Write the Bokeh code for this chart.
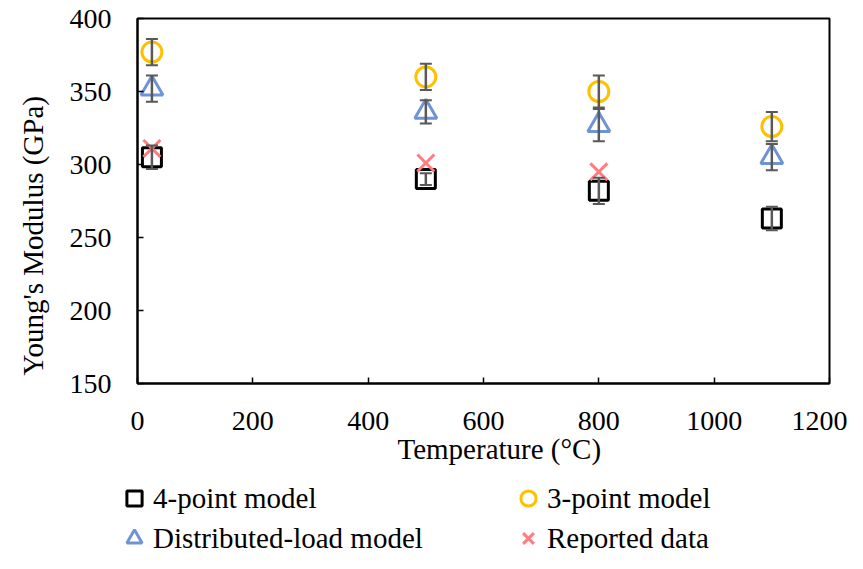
from bokeh.plotting import figure
from bokeh.layouts import column
from bokeh.models import (ColumnDataSource, Whisker, TeeHead, Legend, LegendItem,
                          Range1d, FixedTicker, Title)
from bokeh.embed import file_html
from bokeh.resources import INLINE

# ---- data ----
temperature = [25, 500, 800, 1100]
four_point = [305, 290, 282, 263]
four_point_err = [8, 4, 9, 8]
three_point = [377, 360, 350, 326]
three_point_err = [9, 9, 11, 10]
distributed = [352, 336, 327, 305]
distributed_err = [9, 8, 11, 9]
reported_temperature = [25, 500, 800]
reported = [311, 301, 295]

x_ticks = [0, 200, 400, 600, 800, 1000, 1200]
y_ticks = [150, 200, 250, 300, 350, 400]

series_labels = ["4-point model", "3-point model", "Distributed-load model", "Reported data"]
x_title = "Temperature (°C)"
y_title = "Young's Modulus (GPa)"

FONT = "Liberation Serif"
TICK_FS = "28px"
FS = "29px"
ERR = "#595959"
COLORS = {"four": "black", "three": "#FFC000", "dist": "#6F94D6", "rep": "#FF7C80"}

# ---------------- main chart ----------------
p = figure(width=847, height=480, x_range=Range1d(0, 1200), y_range=Range1d(150, 400),
           output_backend="svg", toolbar_location=None,
           min_border_left=136, min_border_right=18, min_border_top=18, min_border_bottom=97)
p.frame_align = False
p.grid.visible = False
p.outline_line_color = "black"
p.outline_line_width = 2
p.background_fill_color = "white"
p.border_fill_color = "white"

for ax in (p.xaxis[0], p.yaxis[0]):
    ax.major_tick_in = 6
    ax.major_tick_out = 0
    ax.minor_tick_line_color = None
    ax.axis_line_color = "black"
    ax.axis_line_width = 2
    ax.major_tick_line_color = "black"
    ax.major_tick_line_width = 1.5
    ax.major_label_text_font = FONT
    ax.major_label_text_font_size = TICK_FS
    ax.major_label_text_color = "black"

p.xaxis.ticker = FixedTicker(ticks=x_ticks)
p.yaxis.ticker = FixedTicker(ticks=y_ticks)
p.xaxis.major_label_standoff = 28
p.yaxis.major_label_standoff = 26

# axis titles as side titles (so they can be offset like in the reference)
xt = Title(text=x_title, align="left", offset=260, standoff=0, vertical_align="top",
           text_font=FONT, text_font_size=FS, text_font_style="normal", text_color="black")
p.add_layout(xt, "below")
yt = Title(text=y_title, align="left", offset=8, standoff=32, vertical_align="top",
           text_font=FONT, text_font_size=FS, text_font_style="normal", text_color="black")
p.add_layout(yt, "left")


def whiskers(xs, ys, errs):
    src = ColumnDataSource(dict(x=xs, upper=[y + e for y, e in zip(ys, errs)],
                                lower=[y - e for y, e in zip(ys, errs)]))
    w = Whisker(base="x", upper="upper", lower="lower", source=src,
                line_color=ERR, line_width=2.5, level="overlay",
                upper_head=TeeHead(size=12, line_color=ERR, line_width=2),
                lower_head=TeeHead(size=12, line_color=ERR, line_width=2))
    p.add_layout(w)


whiskers(temperature, four_point, four_point_err)
whiskers(temperature, three_point, three_point_err)
whiskers(temperature, distributed, distributed_err)

STYLE = {
    "four": dict(marker="square", size=19, fill_color=None, line_color=COLORS["four"], line_width=3),
    "three": dict(marker="circle", size=20, fill_color=None, line_color=COLORS["three"], line_width=3),
    "dist": dict(marker="triangle", size=22, fill_color=None, line_color=COLORS["dist"], line_width=3),
    "rep": dict(marker="x", size=24, line_color=COLORS["rep"], line_width=3),
}

p.scatter(temperature, four_point, **STYLE["four"])
p.scatter(temperature, three_point, **STYLE["three"])
p.scatter(temperature, distributed, **STYLE["dist"])
p.scatter(reported_temperature, reported, **STYLE["rep"])

# ---------------- legend strip (same series; data lie outside its view) ----------------
lg = figure(width=847, height=73, x_range=Range1d(-1, 0), y_range=Range1d(-1, 0),
            output_backend="svg", toolbar_location=None, x_axis_type=None, y_axis_type=None,
            min_border=0, min_border_left=0, min_border_right=0, min_border_top=0,
            min_border_bottom=0)
lg.frame_align = False
lg.grid.visible = False
lg.outline_line_color = None
lg.background_fill_color = "white"
lg.border_fill_color = "white"

l_four = lg.scatter(temperature, four_point, **STYLE["four"])
l_three = lg.scatter(temperature, three_point, **STYLE["three"])
l_dist = lg.scatter(temperature, distributed, **STYLE["dist"])
l_rep = lg.scatter(reported_temperature, reported, **STYLE["rep"])


def make_legend(items, loc):
    leg = Legend(items=items, location=loc, orientation="vertical",
                 glyph_width=38, glyph_height=40, spacing=-4, padding=0, margin=0,
                 label_standoff=0, border_line_color=None, background_fill_alpha=0,
                 label_text_font=FONT, label_text_font_size=FS, label_text_color="black")
    lg.add_layout(leg, "center")


make_legend([LegendItem(label=series_labels[0], renderers=[l_four]),
             LegendItem(label=series_labels[2], renderers=[l_dist])], (115, -5))
make_legend([LegendItem(label=series_labels[1], renderers=[l_three]),
             LegendItem(label=series_labels[3], renderers=[l_rep])], (509, -5))

layout = column(p, lg, spacing=0)
open("out.html", "w").write(file_html(layout, INLINE))
